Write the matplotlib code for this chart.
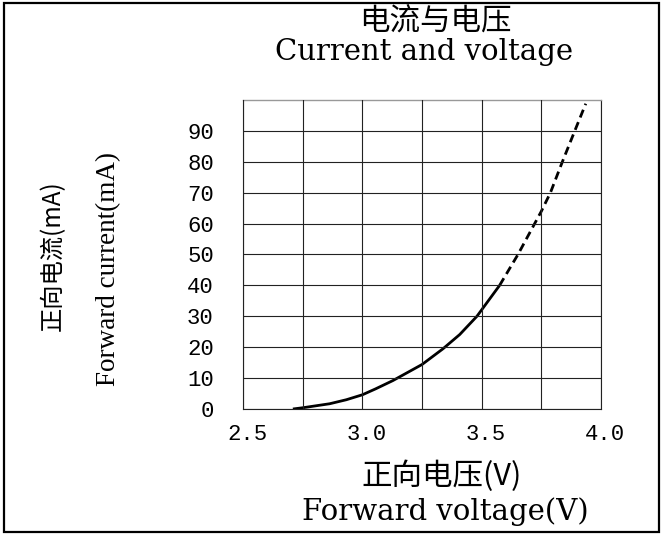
import matplotlib
matplotlib.use('Agg')
import matplotlib.pyplot as plt
from matplotlib.patches import Rectangle
from matplotlib.transforms import ScaledTranslation

solid_v = [2.709, 2.75, 2.863, 2.933, 3.0, 3.055, 3.128, 3.25, 3.338,
           3.408, 3.48, 3.5, 3.575]
solid_i = [0, 0.4, 1.7, 3.0, 4.6, 6.5, 9.2, 14.4, 19.5,
           24.1, 30.0, 32.1, 40.0]
dash_v = [3.575, 3.652, 3.75, 3.788, 3.838, 3.89, 3.936]
dash_i = [40, 50, 64, 70, 80, 90, 98.8]

x_ticks = [2.5, 3.0, 3.5, 4.0]
x_labels = ['2.5', '3.0', '3.5', '4.0']
x_minor = [2.75, 3.25, 3.75]
y_ticks = [0, 10, 20, 30, 40, 50, 60, 70, 80, 90]
y_labels = [str(t) for t in y_ticks]

cjk = ['Noto Sans CJK SC', 'DejaVu Sans']
serif = 'DejaVu Serif'
mono = 'Liberation Mono'

fig = plt.figure(figsize=(6.65, 5.35), dpi=100)
ax = fig.add_axes([0.3654, 0.2355, 0.5384, 0.5776])

ax.plot(solid_v, solid_i, color='black', lw=2.0, solid_capstyle='butt',
        solid_joinstyle='round')
ax.plot(dash_v, dash_i, color='black', lw=2.0, dashes=(3.0, 1.8))

ax.set_xlim(2.5, 4.0)
ax.set_ylim(0, 100)
ax.set_xticks(x_ticks)
ax.set_xticklabels(x_labels, fontfamily=mono, fontsize=16)
ax.set_xticks(x_minor, minor=True)
ax.set_yticks(y_ticks)
ax.set_yticklabels(y_labels, fontfamily=mono, fontsize=16)
ax.tick_params(which='both', length=0)
ax.tick_params(axis='x', pad=11)
ax.tick_params(axis='y', pad=21)
# the labels under the axis sit a little to the right of their grid lines
shift = ScaledTranslation(4 / 100, 0, fig.dpi_scale_trans)
for lab in ax.get_xticklabels():
    lab.set_transform(lab.get_transform() + shift)

ax.grid(True, which='both', color='#222222', lw=0.8)
ax.set_axisbelow(False)
for s in ['left', 'bottom', 'right']:
    ax.spines[s].set_color('#222222')
    ax.spines[s].set_linewidth(0.8)
ax.spines['top'].set_color('#999999')
ax.spines['top'].set_linewidth(1.0)

# titles and axis labels
fig.text(0.654, 0.958, '电流与电压', family=cjk, fontsize=22,
         ha='center', va='center')
fig.text(0.638, 0.888, 'Current and voltage', family=serif, fontsize=21,
         ha='center', va='baseline')
fig.text(0.664, 0.110, '正向电压(V)', family=cjk, fontsize=22,
         ha='center', va='center')
fig.text(0.669, 0.028, 'Forward voltage(V)', family=serif, fontsize=21,
         ha='center', va='baseline')
fig.text(0.080, 0.523, '正向电流(mA)', family=cjk, fontsize=17.5,
         rotation=90, ha='center', va='center')
fig.text(0.164, 0.497, 'Forward current(mA)', family='Liberation Serif',
         fontsize=19.5, rotation=90, ha='center', va='center')

# frame around the whole picture
fig.patches.append(Rectangle((4 / 665, 3 / 535), 655 / 665, 529 / 535,
                             transform=fig.transFigure, fill=False,
                             edgecolor='black', lw=1.6))

fig.savefig('out.png', dpi=100)
